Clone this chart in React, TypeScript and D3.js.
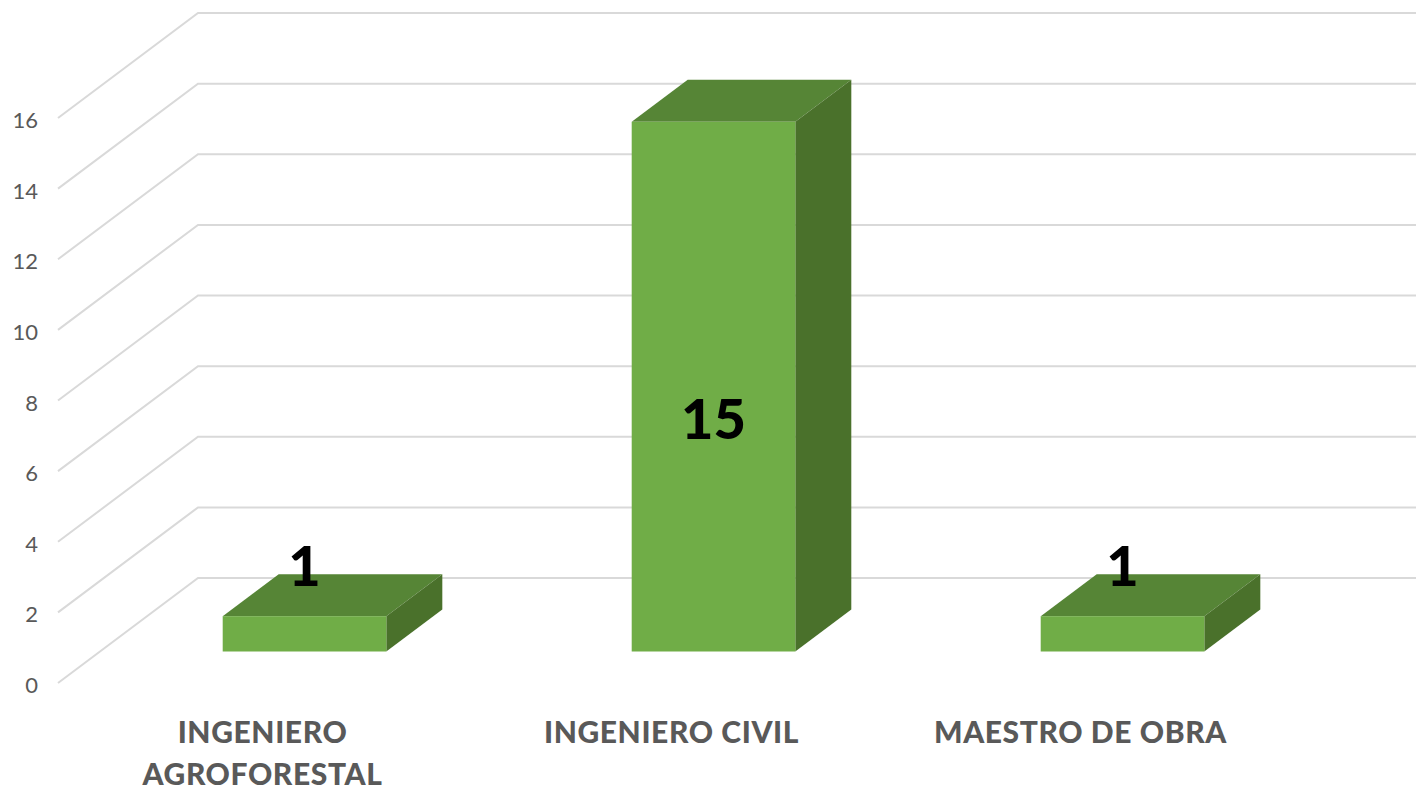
import React, { useEffect, useRef } from 'react';
import * as d3 from 'd3';

const categories = ['INGENIERO AGROFORESTAL', 'INGENIERO CIVIL', 'MAESTRO DE OBRA'];
const categoryLines = [['INGENIERO', 'AGROFORESTAL'], ['INGENIERO CIVIL'], ['MAESTRO DE OBRA']];
const values = [1, 15, 1];
const yTicks = [0, 2, 4, 6, 8, 10, 12, 14, 16];

const W = 1416;
const H = 792;

export default function App() {
  const ref = useRef<SVGSVGElement>(null);

  useEffect(() => {
    const svg = d3.select(ref.current);
    svg.selectAll('*').remove();

    // front plane of the floor
    const left = 58;
    const right = 58 + 3 * 409;
    const y = d3.scaleLinear().domain([0, 16]).range([683, 118]);
    const x = d3.scaleBand<string>()
      .domain(categories)
      .range([left, right])
      .paddingInner(0.6)
      .paddingOuter(0.3);

    // full depth offset
    const DX = 140;
    const DY = -105;
    const d0 = 0.3;
    const d1 = 0.7;

    const grid = svg.append('g');
    yTicks.forEach((t) => {
      grid.append('polyline')
        .attr('points', `${left},${y(t)} ${left + DX},${y(t) + DY} ${W},${y(t) + DY}`)
        .attr('fill', 'none')
        .attr('stroke', '#d9d9d9')
        .attr('stroke-width', 2);
    });

    svg.append('g')
      .selectAll('text')
      .data(yTicks)
      .enter()
      .append('text')
      .attr('x', 38)
      .attr('y', (t) => y(t) + 10)
      .attr('text-anchor', 'end')
      .attr('font-family', 'Lato, sans-serif')
      .attr('font-size', 22)
      .attr('fill', '#595959')
      .text((t) => t);

    const bars = svg.append('g')
      .selectAll('g')
      .data(categories)
      .enter()
      .append('g');

    const fx = (c: string) => (x(c) as number) + DX * d0;
    const fy = (v: number) => y(v) + DY * d0;
    const ox = DX * (d1 - d0);
    const oy = DY * (d1 - d0);
    const bw = x.bandwidth();

    // top
    bars.append('polygon')
      .attr('points', (c, i) => {
        const x0 = fx(c), yt = fy(values[i]);
        return `${x0},${yt} ${x0 + ox},${yt + oy} ${x0 + bw + ox},${yt + oy} ${x0 + bw},${yt}`;
      })
      .attr('fill', '#568536');

    // side
    bars.append('polygon')
      .attr('points', (c, i) => {
        const x1 = fx(c) + bw, yt = fy(values[i]), yb = fy(0);
        return `${x1},${yt} ${x1 + ox},${yt + oy} ${x1 + ox},${yb + oy} ${x1},${yb}`;
      })
      .attr('fill', '#4a712b');

    // front
    bars.append('rect')
      .attr('x', (c) => fx(c))
      .attr('y', (c, i) => fy(values[i]))
      .attr('width', bw)
      .attr('height', (c, i) => fy(0) - fy(values[i]))
      .attr('fill', '#70ad47');

    // data labels
    bars.append('text')
      .attr('x', (c) => fx(c) + bw / 2)
      .attr('y', (c, i) => (values[i] > 3 ? fy(values[i] / 2) + 52 : fy(values[i]) - 30))
      .attr('text-anchor', 'middle')
      .attr('font-family', 'Lato, sans-serif')
      .attr('font-weight', 900)
      .attr('font-size', 56)
      .attr('fill', '#000')
      .text((c, i) => values[i]);

    // category labels
    const labels = svg.append('g')
      .selectAll('text')
      .data(categories)
      .enter()
      .append('text')
      .attr('x', (c) => (x(c) as number) + bw / 2)
      .attr('y', 743)
      .attr('text-anchor', 'middle')
      .attr('font-family', 'Lato, sans-serif')
      .attr('font-weight', 900)
      .attr('font-size', 30)
      .attr('letter-spacing', 0.6)
      .attr('fill', '#595959');

    labels.each(function (c, i) {
      const t = d3.select(this);
      categoryLines[i].forEach((line, j) => {
        t.append('tspan')
          .attr('x', (x(c) as number) + bw / 2)
          .attr('dy', j === 0 ? 0 : 42)
          .text(line);
      });
    });
  }, []);

  return (
    <div style={{ position: 'absolute', left: 0, top: 0 }}>
      <svg ref={ref} width={W} height={H} viewBox={`0 0 ${W} ${H}`} style={{ display: 'block', background: '#fff' }} />
    </div>
  );
}
